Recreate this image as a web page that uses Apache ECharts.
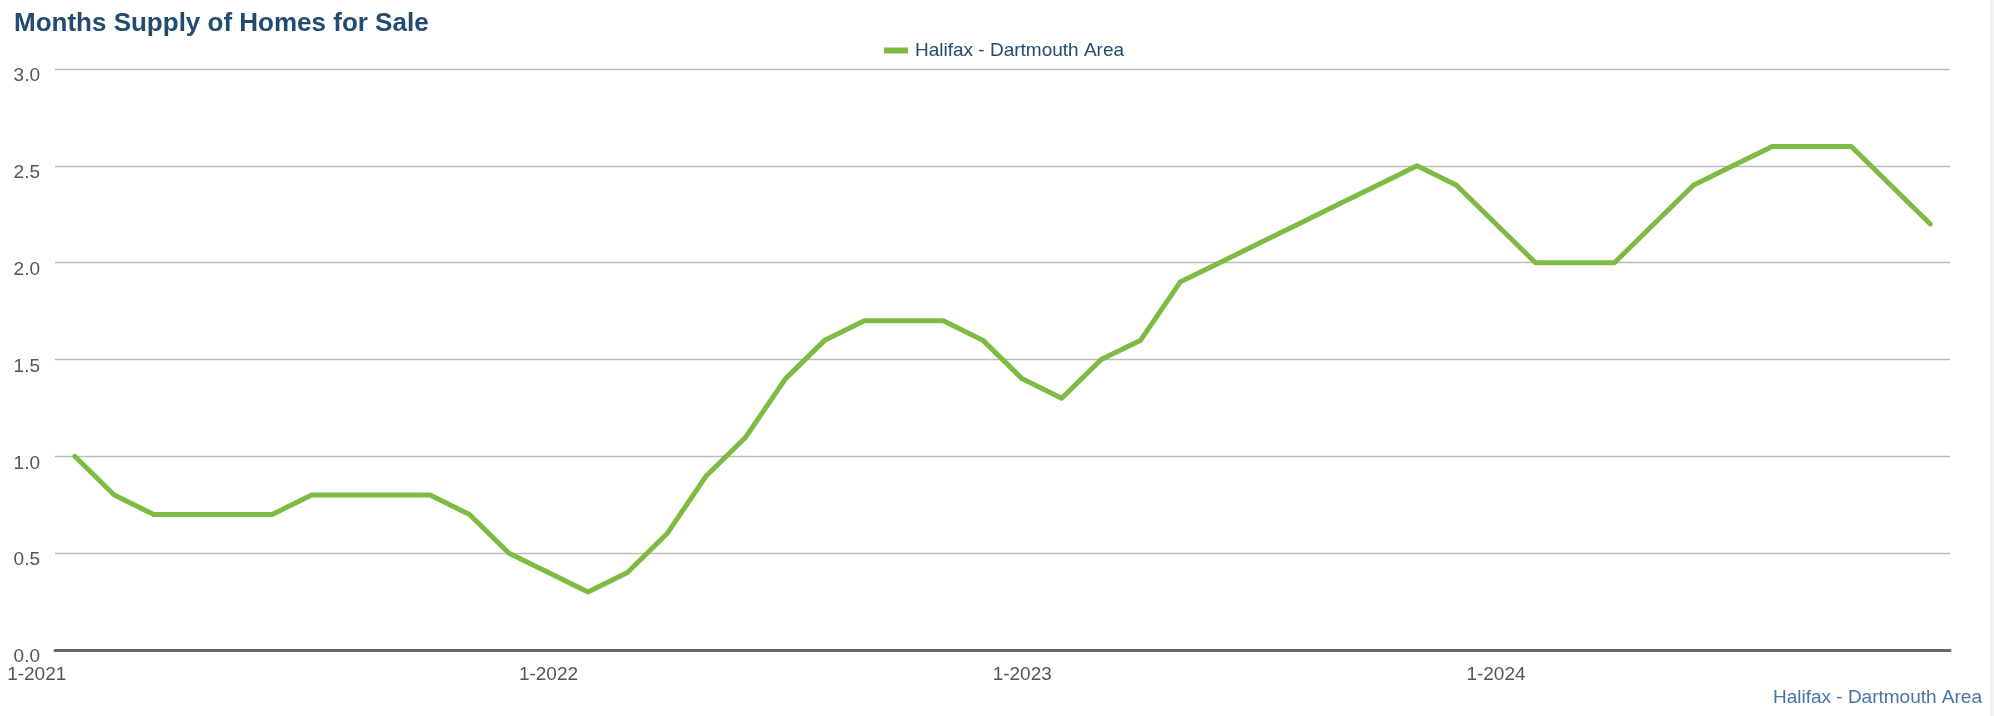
<!DOCTYPE html>
<html>
<head>
<meta charset="utf-8">
<script src="https://cdn.jsdelivr.net/npm/echarts@6/dist/echarts.min.js"></script>
<style>html,body{margin:0;padding:0;background:#fff;}#c{width:1994px;height:716px;}</style>
</head>
<body>
<div id="c"></div>
<script>
const months = [];
for (let y = 2021; y <= 2024; y++) for (let m = 1; m <= 12; m++) months.push(m + '-' + y);
const seriesName = 'Halifax - Dartmouth Area';
const supply = [
  1.0, 0.8, 0.7, 0.7, 0.7, 0.7, 0.8, 0.8, 0.8, 0.8, 0.7, 0.5,
  0.4, 0.3, 0.4, 0.6, 0.9, 1.1, 1.4, 1.6, 1.7, 1.7, 1.7, 1.6,
  1.4, 1.3, 1.5, 1.6, 1.9, 2.0, 2.1, 2.2, 2.3, 2.4, 2.5, 2.4,
  2.2, 2.0, 2.0, 2.0, 2.2, 2.4, 2.5, 2.6, 2.6, 2.6, 2.4, 2.2
];
const yTicks = [0, 0.5, 1.0, 1.5, 2.0, 2.5, 3.0];

const FONT = 'Liberation Sans, Arial, sans-serif';
const chart = echarts.init(document.getElementById('c'));
const showIdx = (i) => i % 12 === 0;
chart.setOption({
  animation: false,
  textStyle: { fontFamily: FONT },
  title: {
    text: 'Months Supply of Homes for Sale',
    left: 9, top: 6,
    textStyle: { fontSize: 26, fontWeight: 'bold', color: '#234a6f', fontFamily: FONT }
  },
  legend: {
    top: 36, left: 879,
    itemWidth: 24, itemHeight: 6, itemGap: 10,
    icon: 'rect',
    textStyle: { fontSize: 19, color: '#234a6f', padding: [0, 0, 0, 2] },
    data: [seriesName]
  },
  graphic: [
    { type: 'text', right: 12, top: 688, style: { text: seriesName, fontSize: 19, fill: '#4a72a6', fontFamily: FONT } },
    { type: 'rect', shape: { x: 1990, y: 0, width: 4, height: 716 }, style: { fill: '#f2f2f2' } }
  ],
  grid: { left: 55, right: 44, top: 69, bottom: 66 },
  xAxis: {
    type: 'category',
    data: months,
    boundaryGap: true,
    axisLine: { lineStyle: { color: '#666', width: 3 } },
    axisTick: { alignWithLabel: true, interval: (i) => showIdx(i), length: 6, lineStyle: { color: '#666', width: 2 } },
    axisLabel: {
      interval: (i) => showIdx(i), color: '#555', fontSize: 19, margin: 15,
      formatter: (v, i) => i === 0 ? '{f|' + v + '}' : v,
      rich: { f: { fontSize: 19, color: '#555', padding: [0, 76, 0, 0] } }
    },
    splitLine: { show: false }
  },
  yAxis: {
    type: 'value',
    min: yTicks[0], max: yTicks[yTicks.length - 1], interval: 0.5,
    axisLine: { show: false },
    axisTick: { show: false },
    axisLabel: {
      color: '#555', fontSize: 19, margin: 15,
      formatter: (v) => '{a|' + v.toFixed(1) + '}',
      rich: { a: { fontSize: 19, color: '#555', padding: [14, 0, 0, 0] } }
    },
    splitLine: { lineStyle: { color: '#bbb', width: 1.3 } }
  },
  series: [{
    name: seriesName,
    type: 'line',
    data: supply,
    symbol: 'none',
    lineStyle: { color: '#7dbb42', width: 5, cap: 'round', join: 'round' },
    itemStyle: { color: '#7dbb42' }
  }]
});
</script>
</body>
</html>
